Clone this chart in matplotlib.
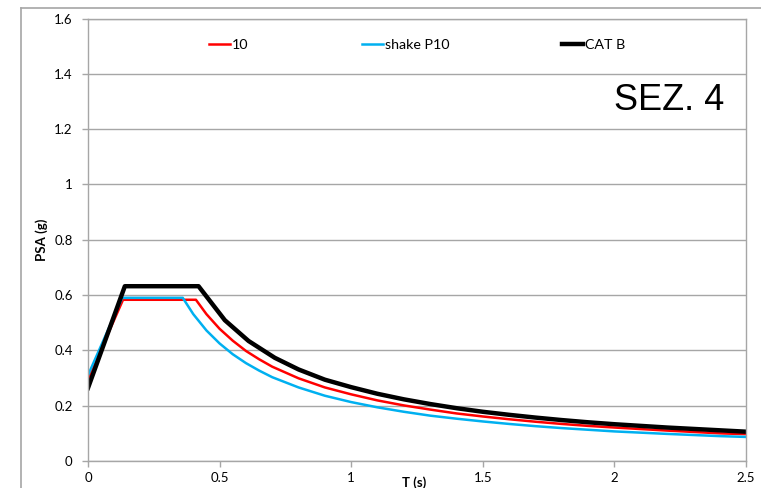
import matplotlib
matplotlib.use("Agg")
import matplotlib.pyplot as plt
from matplotlib.lines import Line2D

plt.rcParams['font.family'] = ['Lato', 'DejaVu Sans']

# --- data ---
t_10 = [0, 0.133, 0.41, 0.45, 0.5, 0.55, 0.6, 0.65, 0.7, 0.8, 0.9, 1.0, 1.1, 1.2,
        1.3, 1.4, 1.5, 1.6, 1.7, 1.8, 1.9, 2.0, 2.2, 2.4, 2.5]
psa_10 = [0.295, 0.583, 0.583, 0.531, 0.478, 0.435, 0.398, 0.368, 0.341, 0.299, 0.266,
          0.241, 0.219, 0.201, 0.186, 0.172, 0.161, 0.151, 0.142, 0.134, 0.127, 0.121,
          0.110, 0.100, 0.097]

t_shake = [0, 0.13, 0.36, 0.4, 0.45, 0.5, 0.55, 0.6, 0.65, 0.7, 0.8, 0.9, 1.0, 1.1,
           1.2, 1.3, 1.4, 1.5, 1.6, 1.7, 1.8, 1.9, 2.0, 2.2, 2.4, 2.5]
psa_shake = [0.31, 0.59, 0.59, 0.531, 0.472, 0.425, 0.386, 0.354, 0.327, 0.303, 0.266,
             0.236, 0.213, 0.194, 0.178, 0.164, 0.153, 0.143, 0.134, 0.126, 0.119,
             0.113, 0.107, 0.098, 0.090, 0.087]

t_cat = [0, 0.14, 0.42, 0.52, 0.61, 0.71, 0.80, 0.90, 1.0, 1.1, 1.2, 1.3, 1.4, 1.5,
         1.6, 1.7, 1.8, 1.9, 2.0, 2.1, 2.2, 2.3, 2.4, 2.5]
psa_cat = [0.264, 0.632, 0.632, 0.509, 0.434, 0.373, 0.331, 0.294, 0.267, 0.243,
           0.223, 0.206, 0.191, 0.178, 0.167, 0.157, 0.148, 0.140, 0.133, 0.127,
           0.121, 0.116, 0.111, 0.106]

x_ticks = [0, 0.5, 1, 1.5, 2, 2.5]
x_tick_labels = ['0', '0.5', '1', '1.5', '2', '2.5']
y_ticks = [0, 0.2, 0.4, 0.6, 0.8, 1.0, 1.2, 1.4, 1.6]
y_tick_labels = ['0', '0.2', '0.4', '0.6', '0.8', '1', '1.2', '1.4', '1.6']

grey = '#a6a6a6'

fig = plt.figure(figsize=(7.61, 4.88), dpi=100)
ax = fig.add_axes([88 / 761, 1 - 461 / 488, (746 - 88) / 761, (461 - 18.5) / 488])

# outer chart border (only left and top visible)
fig.add_artist(Line2D([21 / 761, 21 / 761], [0, 1 - 8 / 488], color=grey, lw=1.2,
                      transform=fig.transFigure))
fig.add_artist(Line2D([21 / 761, 1], [1 - 8 / 488, 1 - 8 / 488], color=grey, lw=1.2,
                      transform=fig.transFigure))

ax.plot(t_10, psa_10, color='#ff0000', lw=1.8, label='10')
ax.plot(t_shake, psa_shake, color='#00b0f0', lw=1.8, label='shake P10')
ax.plot(t_cat, psa_cat, color='black', lw=3.2, label='CAT B')

ax.set_xlim(0, 2.5)
ax.set_ylim(0, 1.6)
ax.set_xticks(x_ticks)
ax.set_xticklabels(x_tick_labels)
ax.set_yticks(y_ticks)
ax.set_yticklabels(y_tick_labels)
ax.tick_params(axis='both', colors=grey, labelcolor='black', labelsize=9.5,
               length=4, width=1)
ax.tick_params(axis='y', pad=7)
ax.tick_params(axis='x', pad=4)
ax.grid(axis='y', color=grey, lw=1)
ax.set_axisbelow(True)
for s in ax.spines.values():
    s.set_color(grey)
    s.set_linewidth(1)

ax.text(0.495, -0.048, 'T (s)', transform=ax.transAxes, ha='center', va='center',
        fontsize=9.5, fontweight='bold')
fig.text(42 / 761, 1 - 240 / 488, 'PSA (g)', rotation=90, ha='center', va='center',
         fontsize=9.5, fontweight='bold')

ax.text(669 / 761, 1 - 101 / 488, 'SEZ. 4', transform=fig.transFigure, ha='center',
        va='center', fontsize=26, family='Liberation Sans')

ax.legend(loc='upper left', bbox_to_anchor=(202 / 761, 1 - 32 / 488),
          bbox_transform=fig.transFigure, ncol=3, frameon=False, fontsize=10.3,
          handlelength=1.47, handletextpad=0.14, columnspacing=7.9, borderpad=0)

fig.savefig('out.png', dpi=100)
